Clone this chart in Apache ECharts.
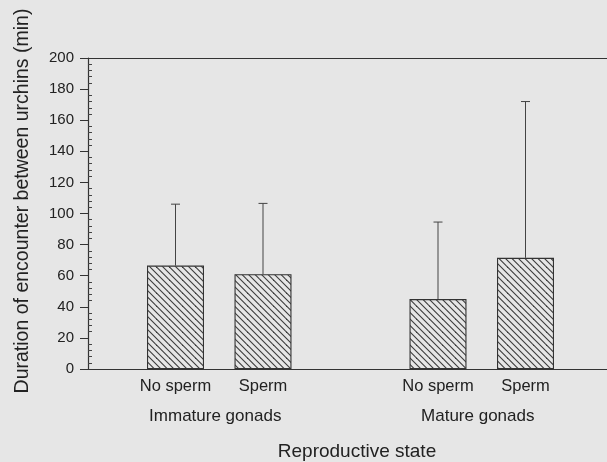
<!DOCTYPE html>
<html>
<head>
<meta charset="utf-8">
<script src="https://cdn.jsdelivr.net/npm/echarts@6/dist/echarts.min.js"></script>
<style>
  html, body { margin: 0; padding: 0; background: #e6e6e6; }
  #chart { width: 607px; height: 462px; }
</style>
</head>
<body>
<div id="chart"></div>
<script>
// ---- data ----
const categories = ['', 'No sperm', 'Sperm', '', 'No sperm', 'Sperm', ''];
const meanValues = [null, 66.5, 61, null, 45, 71.5, null];
const upperValues = [null, 106, 106.5, null, 94.5, 172, null];
const groupLabels = ['Immature gonads', 'Mature gonads'];
const groupMembers = [[1, 2], [4, 5]];
const yTicks = { min: 0, max: 200, step: 20 };
const xTitle = 'Reproductive state';
const yTitle = 'Duration of encounter between urchins (min)';

// ---- hatch pattern ----
function makeHatch() {
  const s = 13, h = 6.5;
  const c = document.createElement('canvas');
  c.width = s; c.height = s;
  const g = c.getContext('2d');
  g.strokeStyle = '#3a3a3a';
  g.lineWidth = 1.1;
  for (let k = -2; k <= 2; k++) {
    g.beginPath();
    g.moveTo(-1 + k * h, -1);
    g.lineTo(s + 1 + k * h, s + 1);
    g.stroke();
  }
  return c;
}

const FONT = "'Liberation Sans', Arial, Helvetica, sans-serif";
const chart = echarts.init(document.getElementById('chart'), null, { renderer: 'canvas' });

const GRID = { left: 88, right: -6, top: 58, bottom: 93 };
const gridWidth = 607 - GRID.left - GRID.right;

const errorData = categories.map((c, i) => [i, meanValues[i], upperValues[i]]).filter(d => d[1] != null);

chart.setOption({
  backgroundColor: '#e6e6e6',
  animation: false,
  grid: Object.assign({ containLabel: false, outerBoundsMode: 'none' }, GRID),
  xAxis: [
    {
      type: 'category', data: categories, boundaryGap: false, position: 'bottom',
      axisLine: { onZero: false, lineStyle: { color: '#333', width: 1.2 } },
      axisTick: { show: false },
      axisLabel: { interval: 0, margin: 9, fontSize: 16.5, color: '#222', fontFamily: FONT }
    },
    {
      type: 'category', data: categories, boundaryGap: false, position: 'top',
      axisLine: { show: true, onZero: false, lineStyle: { color: '#333', width: 1.2 } },
      axisTick: { show: false }, axisLabel: { show: false }
    }
  ],
  yAxis: [
    {
      type: 'value', min: yTicks.min, max: yTicks.max, interval: yTicks.step,
      axisLine: { show: true, onZero: false, lineStyle: { color: '#333', width: 1.2 } },
      axisTick: { show: true, length: 8, lineStyle: { color: '#333' } },
      axisLabel: { margin: 14, fontSize: 15, color: '#222', fontFamily: FONT },
      splitLine: { show: false }
    },
    {
      type: 'value', min: yTicks.min, max: yTicks.max, interval: yTicks.step,
      position: 'right', offset: -gridWidth,
      axisLine: { show: false, onZero: false },
      axisTick: { show: false },
      minorTick: { show: true, splitNumber: 5, length: 4, lineStyle: { color: '#444' } },
      axisLabel: { show: false },
      splitLine: { show: false }
    }
  ],
  series: [
    {
      type: 'bar', data: meanValues, barWidth: 57,
      itemStyle: {
        color: { image: makeHatch(), repeat: 'repeat' },
        borderColor: '#333', borderWidth: 1.1
      }
    },
    {
      type: 'custom', data: errorData, z: 3,
      renderItem: function (params, api) {
        const x = api.value(0);
        const p0 = api.coord([x, api.value(1)]);
        const p1 = api.coord([x, api.value(2)]);
        const style = { stroke: '#444', lineWidth: 1 };
        return {
          type: 'group',
          children: [
            { type: 'line', shape: { x1: p0[0], y1: p0[1], x2: p1[0], y2: p1[1] }, style: style },
            { type: 'line', shape: { x1: p1[0] - 4.5, y1: p1[1], x2: p1[0] + 4.5, y2: p1[1] }, style: style }
          ]
        };
      }
    }
  ]
});

// group labels and axis titles
const graphics = groupLabels.map((lab, gi) => {
  const m = groupMembers[gi];
  const xa = chart.convertToPixel({ xAxisIndex: 0 }, m[0]);
  const xb = chart.convertToPixel({ xAxisIndex: 0 }, m[1]);
  return {
    type: 'text', x: (xa + xb) / 2 - 4, y: 416,
    style: { text: lab, fill: '#222', font: '17px ' + FONT, align: 'center', verticalAlign: 'middle' }
  };
});
graphics.push({
  type: 'text', x: 357, y: 452,
  style: { text: xTitle, fill: '#222', font: '19px ' + FONT, align: 'center', verticalAlign: 'middle' }
});
graphics.push({
  type: 'text', x: 23, y: 201, rotation: Math.PI / 2,
  style: { text: yTitle, fill: '#222', font: '19.5px ' + FONT, align: 'center', verticalAlign: 'middle' }
});
chart.setOption({ graphic: graphics });
</script>
</body>
</html>
